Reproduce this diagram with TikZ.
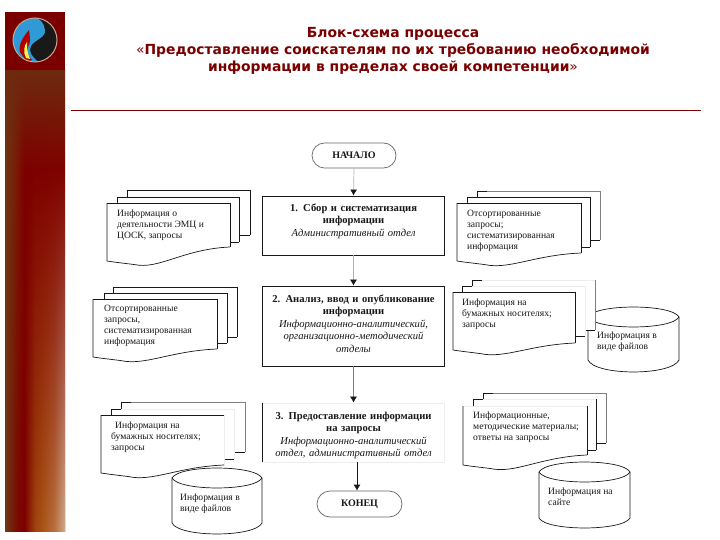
\documentclass[tikz,border=0pt]{standalone}
\usepackage{fontspec}
\setmainfont{Liberation Serif}
\newfontfamily\titlefont{DejaVu Sans}
\usetikzlibrary{arrows.meta,shapes.misc,fadings}
\definecolor{maroon}{HTML}{7A0000}
\definecolor{lineblk}{HTML}{181818}
\definecolor{linegry}{HTML}{808080}
\definecolor{linefnt}{HTML}{EDEDED}
\definecolor{logoblue}{HTML}{2F9BD6}
\definecolor{logoring}{HTML}{C8A890}
\definecolor{sidetop}{HTML}{6E2A10}
\pgfdeclarehorizontalshading{sidemid}{100bp}{rgb(0bp)=(.42,.22,.08);rgb(25bp)=(.42,.22,.08);rgb(33bp)=(.47,.12,.03);rgb(41bp)=(.49,0,0);rgb(75bp)=(.50,.01,0);rgb(100bp)=(.50,.01,0)}
\pgfdeclarehorizontalshading{sidebot}{100bp}{rgb(0bp)=(.42,.23,.09);rgb(25bp)=(.42,.23,.09);rgb(35bp)=(.48,.04,0);rgb(41bp)=(.49,0,0);rgb(50bp)=(.62,.27,.05);rgb(58bp)=(.68,.35,.11);rgb(66bp)=(.72,.44,.24);rgb(75bp)=(.82,.68,.56);rgb(100bp)=(.82,.68,.56)}
\tikzfading[name=fadeinbottom,top color=transparent!100,bottom color=transparent!0]
\tikzfading[name=fadeouttop,top color=transparent!0,bottom color=transparent!100]
\newcommand{\rsheet}[6]{%
  \fill[white] (#1,#3) rectangle (#2,#4);
  \draw[#5,sheetline] (#1,#3) -- (#2,#3);
  \draw[#6,sheetline] (#2,#3) -- (#2,#4);
  \draw[lineblk,sheetline] (#1,#4) -- (#1,#3) -- ({#1+10},#3);
  \draw[lineblk,sheetline] ({#2-10},#4) -- (#2,#4);
}
\newcommand{\rfront}[7]{%
  \fill[white] (#1,#3) -- (#2,#3) -- (#2,#4) .. controls ({#1+0.62*(#2-#1)},{#4+2}) and ({#1+0.42*(#2-#1)},{#5+9}) .. ({#1+0.22*(#2-#1)},{#5+3.5}) .. controls ({#1+0.12*(#2-#1)},{#5+2}) and ({#1+0.05*(#2-#1)},{#5+1}) .. (#1,#5) -- cycle;
  \draw[#6,sheetline] (#1,#3) -- (#2,#3);
  \draw[#7,sheetline] (#2,#3) -- (#2,#4);
  \draw[lineblk,sheetline] (#1,#3) -- (#1,#5) .. controls ({#1+0.05*(#2-#1)},{#5+1}) and ({#1+0.12*(#2-#1)},{#5+2}) .. ({#1+0.22*(#2-#1)},{#5+3.5}) .. controls ({#1+0.42*(#2-#1)},{#5+9}) and ({#1+0.62*(#2-#1)},{#4+2}) .. (#2,#4);
}
% x1 x2 centre-y ry1 side-bottom ry2
\newcommand{\rcyl}[6]{%
  \filldraw[fill=white,draw=lineblk,sheetline] (#1,#3) -- (#1,#5) .. controls ({#1+0.08*(#2-#1)},{#5+1.33*#6}) and ({#2-0.08*(#2-#1)},{#5+1.33*#6}) .. (#2,#5) -- (#2,#3) .. controls ({#2-0.08*(#2-#1)},{#3-1.33*#4}) and ({#1+0.08*(#2-#1)},{#3-1.33*#4}) .. (#1,#3) -- cycle;
  \draw[lineblk,sheetline] (#1,#3) .. controls ({#1+0.08*(#2-#1)},{#3+1.33*#4}) and ({#2-0.08*(#2-#1)},{#3+1.33*#4}) .. (#2,#3);
}
\tikzset{
  sheetline/.style={line width=0.7pt},
  doctext/.style={anchor=north west,inner sep=0pt,align=left,text=lineblk,font=\fontsize{9.6}{11}\selectfont},
  procbox/.style={rectangle,draw=lineblk,line width=0.8pt,minimum width=182pt,inner sep=0pt},
  proctext/.style={anchor=north,inner sep=0pt,align=center,text width=182pt,text=lineblk,font=\fontsize{10.6}{12.5}\selectfont},
  terminal/.style={rounded rectangle,draw=linegry!80!black,line width=0.7pt,fill=white,inner sep=0pt,font=\fontsize{10}{11}\selectfont\bfseries,text=lineblk},
  flow/.style={draw=#1,line width=0.7pt,-{Latex[length=6pt,width=7pt,color=lineblk,fill=lineblk]}},
  titletext/.style={anchor=center,inner sep=0pt,align=center,text=maroon,font=\titlefont\bfseries\fontsize{13.9}{17}\selectfont}
}
\begin{document}
\begin{tikzpicture}[x=1pt,y=-1pt]
\useasboundingbox (0,0) rectangle (720,540);
\fill[white] (0,0) rectangle (720,540);
% sidebar
\shade[shading=sidemid] (5,70) rectangle (65,531);
\shade[shading=sidebot,path fading=fadeinbottom] (5,170) rectangle (65,531);
\fill[sidetop,path fading=fadeouttop] (5,70) rectangle (65,170);
\fill[maroon] (5,12) rectangle (65,70);
% logo
\fill[black!90] (35,40) circle (22);
\fill[logoblue] (36,18) .. controls (24,18) and (13,28) .. (13,40) .. controls (13,52) and (24,62) .. (38,62) .. controls (32,56) and (28,52) .. (31,46) .. controls (34,40) and (46,38) .. (45,30) .. controls (44,23) and (40,19) .. (36,18) -- cycle;
\fill[red!70!black] (27,62) -- (20,52) .. controls (18,44) and (24,36) .. (29,30) .. controls (30,38) and (31,42) .. (28,47) .. controls (26,52) and (28,56) .. (32,60) -- cycle;
\fill[yellow!70!white] (26,58) .. controls (23,52) and (24,46) .. (27,42) .. controls (27,48) and (27,52) .. (30,59) -- cycle;
\draw[logoring,line width=1pt] (35,40) circle (22);
% title
\node[titletext] (title) at (393,50.5) {Блок-схема процесса\\{\mdseries«}Предоставление соискателям по их требованию необходимой\\информации в пределах своей компетенции{\mdseries»}};
\coordinate (ruleL) at (71,110.5);
\coordinate (ruleR) at (701,110.5);
\draw[maroon,line width=1.9pt] (ruleL) -- (ruleR);
% cylinders (under the sheets)
\rcyl{588}{679}{317}{10}{360}{12}
\rcyl{172}{262}{478}{10}{523}{11}
\rcyl{539}{630}{472}{10}{518}{10}
% left top stack
\rsheet{127}{250}{190}{235}{lineblk}{lineblk}
\rsheet{117}{239}{197}{242}{lineblk}{lineblk}
\rfront{107}{230}{203}{247}{261}{lineblk}{lineblk}
\node[doctext] (d1) at (117,209.7) {Информация о\\деятельности ЭМЦ  и\\ЦОСК, запросы};
% left middle stack
\rsheet{113}{237}{287}{337}{lineblk}{lineblk}
\rsheet{104}{227}{293}{343}{lineblk}{lineblk}
\rfront{93}{217}{299}{349}{357}{lineblk}{lineblk}
\node[doctext] (d2) at (104,305) {Отсортированные\\запросы,\\систематизированная\\информация};
% left bottom stack
\rsheet{121}{245}{402}{452}{linegry}{linegry}
\rsheet{111}{234}{409}{459}{linefnt}{linefnt}
\rfront{101}{224}{415}{465}{473}{lineblk}{linefnt}
\node[doctext] (d3) at (111,421.7) {\hspace{4pt}Информация на\\бумажных носителях;\\запросы};
% right top stack
\rsheet{477}{600}{191}{240}{linegry}{linegry}
\rsheet{467}{590}{197}{247}{lineblk}{lineblk}
\rfront{457}{581}{203}{253}{261}{lineblk}{lineblk}
\node[doctext] (d4) at (467,209.7) {Отсортированные\\запросы;\\систематизированная\\информация};
% right middle stack
\rsheet{472}{595}{280}{330}{linefnt}{linegry}
\rsheet{462}{585}{286}{336}{linefnt}{linefnt}
\rfront{453}{575}{292}{343}{350}{lineblk}{lineblk}
\node[doctext] (d5) at (462,298.7) {Информация на\\бумажных носителях;\\запросы};
% right bottom stack
\rsheet{483}{606}{393}{443}{linegry}{linegry}
\rsheet{473}{596}{399}{450}{linefnt}{lineblk}
\rfront{463}{587}{406}{455}{465}{linefnt}{lineblk}
\node[doctext] (d6) at (473,411.7) {Информационные,\\методические материалы;\\ответы на запросы};
% cylinder labels
\node[doctext] (c1) at (597,331.7) {Информация  в\\виде файлов};
\node[doctext] (c2) at (180,493.7) {Информация  в\\виде файлов};
\node[doctext] (c3) at (548,487.7) {Информация на\\сайте};
% process boxes
\node[procbox,minimum height=59pt] (b1) at (353.5,225.5) {};
\node[procbox,minimum height=80pt] (b2) at (353.5,326) {};
\node[procbox,draw=linefnt,minimum height=59pt] (b3) at (353.5,432.5) {};
\draw[lineblk,line width=0.8pt] (b3.north west) -- (b3.south west);
\node[proctext] (t1) at (353.5,203.5) {\textbf{1. Сбор и систематизация}\\\textbf{информации}\\\textit{Административный отдел}};
\node[proctext] (t2) at (353.5,294.5) {\textbf{2. Анализ, ввод  и опубликование}\\\textbf{информации}\\\textit{Информационно-аналитический,}\\\textit{организационно-методический}\\\textit{отделы}};
\node[proctext] (t3) at (353.5,411.5) {\textbf{3. Предоставление информации}\\\textbf{на запросы}\\\textit{Информационно-аналитический}\\\textit{отдел, административный отдел}};
% terminals
\node[terminal,minimum width=84pt,minimum height=25pt] (start) at (354,155.5) {НАЧАЛО};
\node[terminal,minimum width=85pt,minimum height=26pt] (finish) at (359.5,504) {КОНЕЦ};
% connectors
\draw[flow=linegry!60] (start.south) -- (b1.north);
\draw[flow=linegry!60] (b1.south) -- (b2.north);
\draw[flow=linegry] (b2.south) -- (b3.north);
\draw[flow=lineblk] ([xshift=3.5pt]b3.south) -- ([xshift=-2.5pt]finish.north);
\end{tikzpicture}
\end{document}
